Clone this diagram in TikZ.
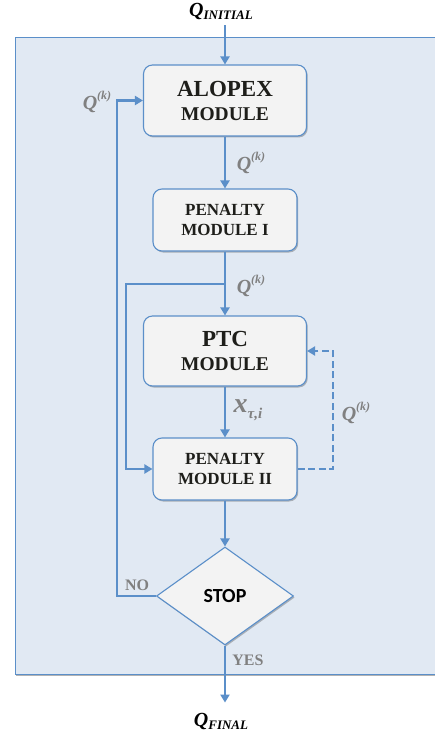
\documentclass[tikz,border=0pt]{standalone}
\usepackage{fontspec}
\setmainfont{Liberation Serif}
\newfontfamily\stopfont{Carlito}
\usetikzlibrary{arrows.meta,shapes.geometric,shadows}
\definecolor{lineblue}{HTML}{5B8FC9}
\definecolor{bgblue}{HTML}{E1E9F3}
\definecolor{boxfill}{HTML}{F3F3F3}
\definecolor{lblgrey}{HTML}{808080}
\definecolor{txtdark}{HTML}{1E1E1A}
\newcommand{\Qk}{{\fontsize{20}{20}\selectfont\bfseries\itshape Q\raisebox{0.5em}{\fontsize{12}{12}\selectfont (k)}}}
\begin{document}
\begin{tikzpicture}[x=1pt,y=-1pt,
  modbox/.style={draw=lineblue, line width=1.1pt, fill=boxfill, rounded corners=9pt,
    align=center, text=txtdark, inner sep=0pt,
    drop shadow={shadow xshift=1.2pt, shadow yshift=-1.5pt, opacity=0.25, fill=black}},
  conn/.style={draw=lineblue, line width=2.8pt, -{Triangle[length=8pt,width=9pt]}},
  dconn/.style={conn, dash pattern=on 7pt off 3.5pt},
  grlab/.style={text=lblgrey, inner sep=0pt},
]
\useasboundingbox (0,0) rectangle (435,738);
% background panel
\node[draw=lineblue, line width=0.9pt, fill=bgblue, minimum width=423pt, minimum height=637pt,
      inner sep=0pt, anchor=north west,
      drop shadow={shadow xshift=1pt, shadow yshift=-1.5pt, opacity=0.3, fill=black}] (panel) at (15,37) {};

% modules
\node[modbox, minimum width=163pt, minimum height=71pt, font=\bfseries\fontsize{19.5}{24}\selectfont] (alopex) at (225,100.5)
  {{\fontsize{23}{24}\selectfont ALOPEX}\\MODULE};
\node[modbox, minimum width=144pt, minimum height=62pt, font=\bfseries\fontsize{17}{20}\selectfont] (pen1) at (225,220)
  {PENALTY\\MODULE I};
\node[modbox, minimum width=163pt, minimum height=70pt, font=\bfseries\fontsize{19.5}{24}\selectfont] (ptc) at (225,351)
  {{\fontsize{23}{24}\selectfont PTC}\\MODULE};
\node[modbox, minimum width=144pt, minimum height=62pt, font=\bfseries\fontsize{17}{20}\selectfont] (pen2) at (225,469)
  {PENALTY\\MODULE II};
\node[diamond, draw=lineblue, line width=1.1pt, fill=boxfill, minimum width=137pt, minimum height=98pt,
      inner sep=0pt, text=black, font=\stopfont\bfseries\fontsize{20}{20}\selectfont,
      drop shadow={shadow xshift=1.2pt, shadow yshift=-1.5pt, opacity=0.25, fill=black}] (stop) at (225,596) {STOP};

% terminal labels
\node[inner sep=0pt] (qin) at (221,12)
  {\fontsize{20}{20}\selectfont\bfseries\itshape Q\raisebox{-0.15em}{\fontsize{13}{13}\selectfont INITIAL}};
\node[inner sep=0pt] (qfin) at (221,721)
  {\fontsize{20}{20}\selectfont\bfseries\itshape Q\raisebox{-0.15em}{\fontsize{13}{13}\selectfont FINAL}};

% edge labels
\node[grlab] (l1) at (97,102) {\Qk};
\node[grlab] (l2) at (251,163) {\Qk};
\node[grlab] (l3) at (251,286) {\Qk};
\node[grlab] (l4) at (356,413) {\Qk};
\node[grlab] (l5) at (248,410) {\fontsize{28}{28}\selectfont\bfseries\itshape x\raisebox{-0.2em}{\fontsize{15}{15}\selectfont τ,i}};
\node[grlab, font=\bfseries\fontsize{16}{16}\selectfont] (lno) at (137,585) {NO};
\node[grlab, font=\bfseries\fontsize{16}{16}\selectfont] (lyes) at (248,660) {YES};

% helper coordinates
\coordinate (br) at (225,284);
\coordinate (brl) at (126,284);
\coordinate (dk) at (333,469);
\coordinate (lp) at (117,596);

% connectors
\draw[conn, shorten <=5pt] (alopex.north |- qin.south) -- (alopex.north);
\draw[conn] (alopex) -- (pen1);
\draw[conn] (pen1) -- (ptc);
\draw[conn] (br) -- (brl) |- (pen2.west);
\draw[conn] (ptc) -- (pen2);
\draw[dconn] (pen2.east) -- (dk) |- (ptc.east);
\draw[conn] (pen2) -- (stop.north);
\draw[conn] (stop.west) -- (lp) |- (alopex.west);
\draw[conn, shorten >=10pt] (stop.south) -- (stop.south |- qfin.north);
\end{tikzpicture}
\end{document}
